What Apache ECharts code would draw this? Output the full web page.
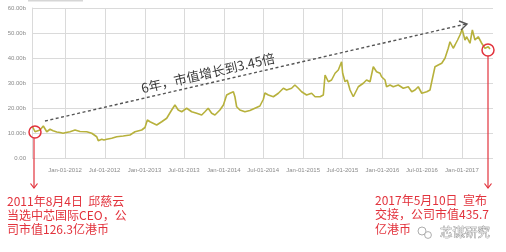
<!DOCTYPE html>
<html><head><meta charset="utf-8">
<script src="https://cdn.jsdelivr.net/npm/echarts@6/dist/echarts.min.js"></script>
<style>html,body{margin:0;padding:0;background:#fff;}#c{width:506px;height:252px;}</style>
</head><body><div id="c"></div>
<script>
var dates = ['2011-08-04','2011-08-16','2011-08-25','2011-09-08','2011-09-23','2011-10-09','2011-10-24','2011-11-07','2011-11-24','2011-12-09','2011-12-23',
'2012-01-06','2012-01-24','2012-02-16','2012-03-10','2012-04-10','2012-05-03','2012-05-26','2012-06-02','2012-06-18','2012-06-28','2012-07-11','2012-08-03','2012-08-26','2012-09-25','2012-10-26','2012-11-18','2012-12-19',
'2013-01-03','2013-01-14','2013-01-26','2013-02-03','2013-02-26','2013-03-21','2013-04-13','2013-05-06','2013-05-21','2013-06-05','2013-06-21','2013-07-14','2013-08-06','2013-08-29','2013-09-21','2013-10-06','2013-10-21','2013-11-06','2013-11-21','2013-12-14','2013-12-30',
'2014-01-14','2014-01-29','2014-02-14','2014-02-21','2014-03-01','2014-03-16','2014-04-08','2014-05-01','2014-05-24','2014-06-16','2014-07-02','2014-07-09','2014-07-25','2014-08-17','2014-09-09','2014-10-02','2014-10-17','2014-11-09','2014-11-24','2014-12-10','2014-12-25',
'2015-01-17','2015-02-09','2015-02-25','2015-03-20','2015-04-04','2015-04-12','2015-04-27','2015-05-12','2015-05-28','2015-06-12','2015-06-27','2015-07-02','2015-07-13','2015-07-23','2015-08-05','2015-08-20','2015-08-28','2015-09-12','2015-10-05','2015-10-20','2015-11-05','2015-11-20','2015-12-05','2015-12-21','2015-12-28',
'2016-01-13','2016-01-20','2016-02-05','2016-02-20','2016-03-14','2016-04-06','2016-04-29','2016-05-15','2016-05-30','2016-06-14','2016-06-30','2016-07-23','2016-08-07','2016-08-15','2016-08-30','2016-09-14','2016-09-30','2016-10-15','2016-10-30','2016-11-07','2016-11-22','2016-11-30','2016-12-12','2016-12-23',
'2017-01-02','2017-01-15','2017-01-23','2017-02-07','2017-02-18','2017-03-02','2017-03-17','2017-04-02','2017-04-17','2017-05-02','2017-05-10'];
var values = [12.6,10.5,10.8,11.2,12.8,10.5,11.5,10.9,10.4,10.2,9.9,
10.2,10.5,11.2,10.6,10.5,9.9,8.5,6.9,7.5,7.2,7.5,7.9,8.5,8.8,9.2,10.5,11.2,
12.2,15.2,14.5,13.9,13.2,14.5,15.9,19.2,21.2,19.2,18.5,19.9,18.5,17.9,17.2,18.5,19.9,17.9,17.2,19.2,21.2,
25.2,25.9,26.5,24.5,20.5,19.2,18.5,19.0,19.9,20.8,23.5,26.0,25.2,24.5,25.9,27.9,27.2,27.9,29.2,27.9,26.5,
25.2,25.9,24.5,24.5,25.2,33.2,30.5,31.2,33.9,35.2,38.5,33.9,30.5,31.2,27.2,24.5,25.9,28.5,29.9,31.2,30.5,36.5,34.5,33.9,32.5,
31.2,28.5,29.2,28.5,29.2,27.9,28.5,26.5,27.2,28.5,25.9,26.5,27.2,30.5,36.5,37.2,37.9,39.9,43.9,46.5,43.9,45.2,47.2,49.2,
51.5,47.2,48.5,45.9,51.2,47.2,48.5,45.9,43.9,44.5,43.6];
var xTicks = ['2012-01-01','2012-07-01','2013-01-01','2013-07-01','2014-01-01','2014-07-01','2015-01-01','2015-07-01','2016-01-01','2016-07-01','2017-01-01'];
var xRange = ['2011-08-02','2017-05-24'];
var yTicks = [0,10,20,30,40,50,60];
var monthNames = ['Jan','Feb','Mar','Apr','May','Jun','Jul','Aug','Sep','Oct','Nov','Dec'];
var trendText = '6年，市值增长到3.45倍';
var leftNote = '2011年8月4日  邱慈云\n当选中芯国际CEO，公\n司市值126.3亿港币';
var rightNote = '2017年5月10日  宣布\n交接，公司市值435.7\n亿港币';
var brand = '芯谋研究';

function T(s){var p=s.split('-');return Date.UTC(+p[0],+p[1]-1,+p[2]);}
var tickTs = xTicks.map(T);
var chart = echarts.init(document.getElementById('c'), null, {renderer:'canvas'});
function pad(n){return n<10?'0'+n:''+n;}
var red = '#e2323c';
var gridColor = '#dadada';
var option = {
  animation:false,
  grid:{left:32,right:13,top:8,bottom:94},
  xAxis:{type:'value',min:T(xRange[0]),max:T(xRange[1]),
    axisLine:{show:false},
    axisTick:{show:false,customValues:tickTs},
    axisLabel:{customValues:tickTs,fontSize:6,color:'#8a8a8a',margin:9,fontFamily:'Liberation Sans',
      formatter:function(v){var d=new Date(v);return monthNames[d.getUTCMonth()]+'-'+pad(d.getUTCDate())+'-'+d.getUTCFullYear();}},
    splitLine:{show:false}
  },
  yAxis:{type:'value',min:yTicks[0],max:yTicks[yTicks.length-1],interval:10,
    axisLine:{show:true,lineStyle:{color:gridColor}},axisTick:{show:false},
    axisLabel:{fontSize:6,color:'#8a8a8a',margin:6,fontFamily:'Liberation Sans',
      formatter:function(v){return v===0?'0.00':v.toFixed(2)+'b';}},
    splitLine:{lineStyle:{color:gridColor,width:1}}
  },
  series:[
    {type:'line',data:dates.map(function(d,i){return [T(d),values[i]];}),
    showSymbol:false,symbol:'none',lineStyle:{color:'#b7b13c',width:1.6},z:3}],
  graphic:[]
};
chart.setOption(option);
var els = [];
tickTs.forEach(function(t){
  var pTop = chart.convertToPixel({gridIndex:0}, [t, yTicks[yTicks.length-1]]);
  var pBot = chart.convertToPixel({gridIndex:0}, [t, yTicks[0]]);
  if (pTop && pBot && isFinite(pTop[0])) {
    var x = Math.round(pTop[0]) + 0.5;
    els.push({type:'line',silent:true,z:0,shape:{x1:x,y1:pTop[1],x2:x,y2:pBot[1]},style:{stroke:gridColor,lineWidth:1}});
  }
});
els.push(
    {type:'rect',z:5,shape:{x:28,y:0,width:55,height:1.5},style:{fill:'#d6d6d6'}},
    {type:'line',z:10,shape:{x1:45,y1:121,x2:466,y2:24},style:{stroke:'#555',lineWidth:1.4,lineDash:[3,2.5]}},
    {type:'polyline',z:10,shape:{points:[[459,21],[467,24],[461,30]]},style:{stroke:'#555',lineWidth:1.4,fill:null}},
    {type:'text',z:10,x:208,y:73,rotation:13*Math.PI/180,style:{text:trendText,fill:'#3a3a3a',font:'13px "Noto Sans CJK SC"',align:'center',verticalAlign:'middle'}},
    {type:'circle',z:11,shape:{cx:35,cy:132,r:6},style:{stroke:red,lineWidth:1.5,fill:null}},
    {type:'circle',z:11,shape:{cx:488,cy:50,r:6},style:{stroke:red,lineWidth:1.5,fill:null}},
    {type:'line',z:11,shape:{x1:34,y1:138,x2:34,y2:188},style:{stroke:red,lineWidth:1.2}},
    {type:'polyline',z:11,shape:{points:[[30.5,183.5],[34,188],[37.5,183.5]]},style:{stroke:red,lineWidth:1.2,fill:null}},
    {type:'line',z:11,shape:{x1:488,y1:56,x2:488,y2:188},style:{stroke:red,lineWidth:1.2}},
    {type:'polyline',z:11,shape:{points:[[484.5,183.5],[488,188],[491.5,183.5]]},style:{stroke:red,lineWidth:1.2,fill:null}},
    {type:'text',z:11,x:7,y:194,style:{text:leftNote,fill:red,font:'12px "Noto Sans CJK SC"',lineHeight:14,verticalAlign:'top'}},
    {type:'text',z:11,x:375,y:193,style:{text:rightNote,fill:red,font:'12px "Noto Sans CJK SC"',lineHeight:14.5,verticalAlign:'top'}},
    {type:'circle',z:11,shape:{cx:422,cy:231,r:4},style:{stroke:'#999',lineWidth:0.8,fill:'#fff'}},
    {type:'circle',z:11,shape:{cx:428,cy:235,r:3.4},style:{stroke:'#999',lineWidth:0.8,fill:'#fff'}},
    {type:'text',z:11,x:440,y:232,style:{text:brand,fill:'#e4e4e4',stroke:'#7a7a7a',lineWidth:0.6,font:'12.5px "Noto Sans CJK SC"',verticalAlign:'middle'}}
);
chart.setOption({graphic:{elements:els}});
</script></body></html>
